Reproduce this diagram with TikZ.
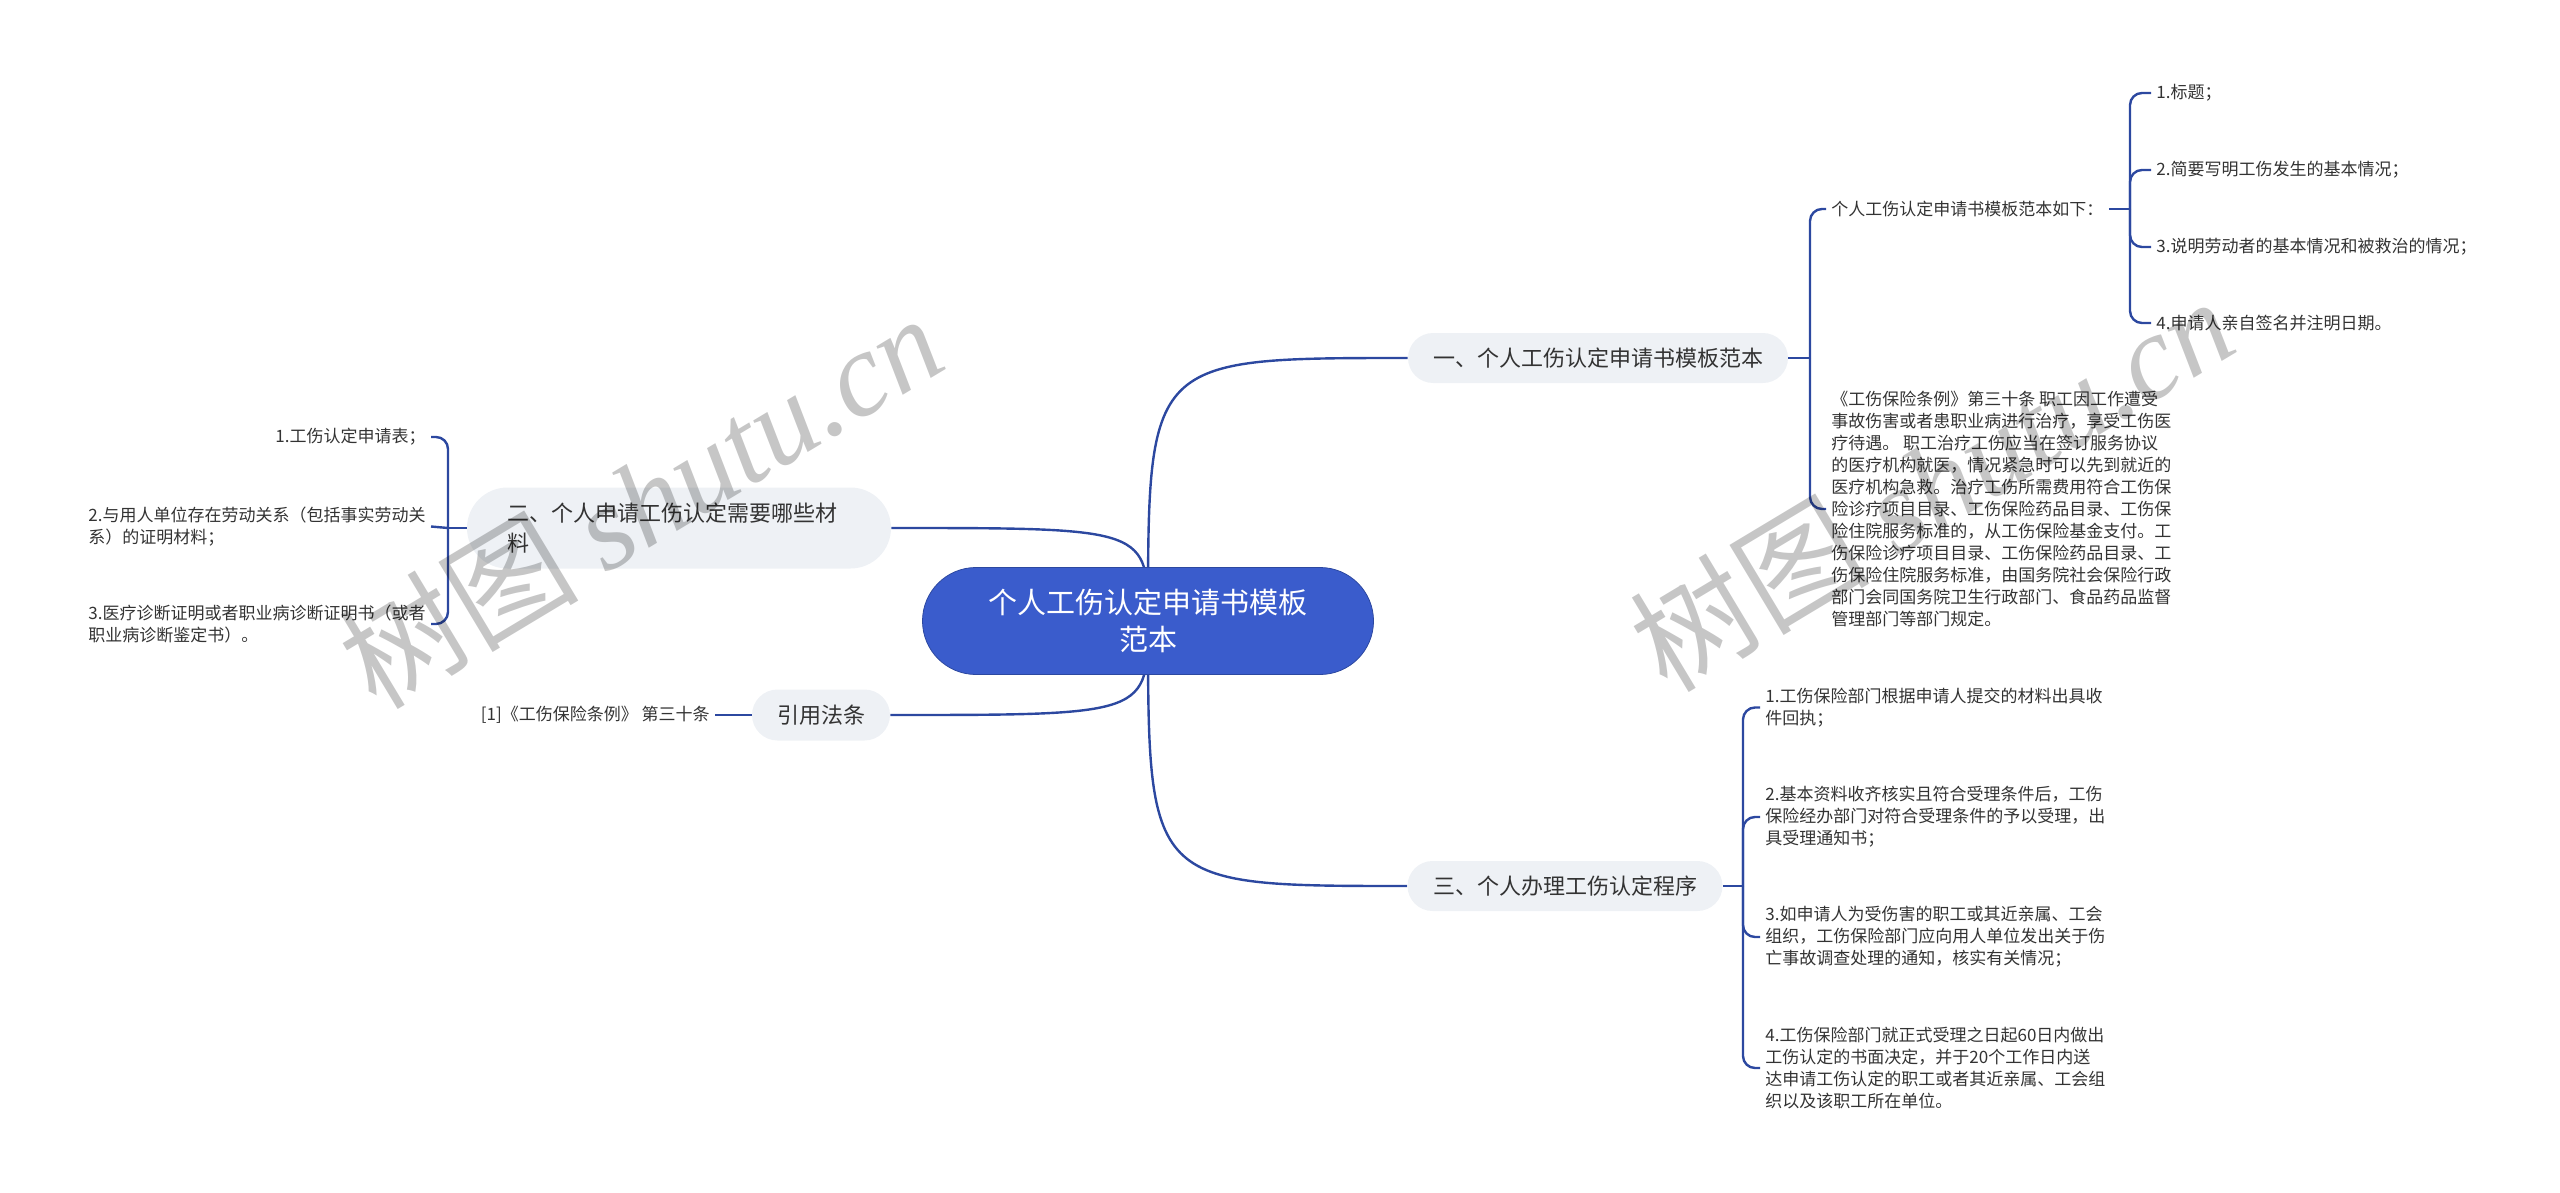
\documentclass[tikz,border=0pt]{standalone}
\usepackage{fontspec}
\setmainfont{Noto Sans CJK SC}
\newfontfamily\wmlatin{Liberation Serif}
\usetikzlibrary{backgrounds,shapes.misc}
\definecolor{lc}{HTML}{2C48A0}
\definecolor{rootfill}{HTML}{3A5CCC}
\definecolor{bfill}{HTML}{EEF1F5}
\definecolor{tc}{HTML}{333333}
\definecolor{wmc}{HTML}{C6C6C6}
\begin{document}
\begin{tikzpicture}[x=0.5pt,y=-0.5pt,
 edge/.style={draw=lc,line width=1.2pt},
 bracket/.style={edge,rounded corners=6pt},
 rootnode/.style={rounded rectangle,fill=rootfill,draw=lc,line width=0.4pt,text=white,minimum width=225.5pt,minimum height=53.5pt,inner sep=0pt,align=center,font=\fontsize{14.5pt}{18.5pt}\selectfont},
 branch/.style={rounded rectangle,fill=bfill,text=tc,minimum height=25pt,inner sep=0pt,font=\fontsize{11pt}{15pt}\selectfont},
 leaf/.style={text=tc,inner xsep=2.5pt,inner ysep=1pt,align=left,font=\fontsize{8.5pt}{11pt}\selectfont},
 wm/.style={text=wmc,rotate=31,inner sep=0pt,font=\fontsize{60pt}{60pt}\selectfont}]
\useasboundingbox (0,0) rectangle (2560,1193);
% root and branches
\node[rootnode] (root) at (1148,621) {个人工伤认定申请书模板\\范本};
\node[branch,minimum width=190pt] (b1) at (1598,358) {一、个人工伤认定申请书模板范本};
\node[branch,minimum width=212pt,minimum height=40.5pt,text width=172pt,align=left] (b2) at (679,528) {二、个人申请工伤认定需要哪些材\\料};
\node[branch,minimum width=157.5pt] (b3) at (1565,886) {三、个人办理工伤认定程序};
\node[branch,minimum width=69pt,minimum height=25.5pt] (b4) at (821,715) {引用法条};
% branch 1 leaves
\node[leaf,anchor=west] (s1) at (1826,209) {个人工伤认定申请书模板范本如下：};
\node[leaf,anchor=west] (t1) at (2151,93) {1.标题；};
\node[leaf,anchor=west] (t2) at (2151,170) {2.简要写明工伤发生的基本情况；};
\node[leaf,anchor=west] (t3) at (2151,247) {3.说明劳动者的基本情况和被救治的情况；};
\node[leaf,anchor=west] (t4) at (2151,323) {4.申请人亲自签名并注明日期。};
\node[leaf,anchor=west] (p1) at (1826,509) {《工伤保险条例》第三十条 职工因工作遭受\\事故伤害或者患职业病进行治疗，享受工伤医\\疗待遇。 职工治疗工伤应当在签订服务协议\\的医疗机构就医，情况紧急时可以先到就近的\\医疗机构急救。治疗工伤所需费用符合工伤保\\险诊疗项目目录、工伤保险药品目录、工伤保\\险住院服务标准的，从工伤保险基金支付。工\\伤保险诊疗项目目录、工伤保险药品目录、工\\伤保险住院服务标准，由国务院社会保险行政\\部门会同国务院卫生行政部门、食品药品监督\\管理部门等部门规定。};
% branch 3 leaves
\node[leaf,anchor=west] (c1) at (1760,707.5) {1.工伤保险部门根据申请人提交的材料出具收\\件回执；};
\node[leaf,anchor=west] (c2) at (1760,817) {2.基本资料收齐核实且符合受理条件后，工伤\\保险经办部门对符合受理条件的予以受理，出\\具受理通知书；};
\node[leaf,anchor=west] (c3) at (1760,937) {3.如申请人为受伤害的职工或其近亲属、工会\\组织，工伤保险部门应向用人单位发出关于伤\\亡事故调查处理的通知，核实有关情况；};
\node[leaf,anchor=west] (c4) at (1760,1068) {4.工伤保险部门就正式受理之日起60日内做出\\工伤认定的书面决定，并于20个工作日内送\\达申请工伤认定的职工或者其近亲属、工会组\\织以及该职工所在单位。};
% branch 2 leaves
\node[leaf,anchor=east] (l1) at (431,437) {1.工伤认定申请表；};
\node[leaf,anchor=east] (l2) at (431,526.5) {2.与用人单位存在劳动关系（包括事实劳动关\\系）的证明材料；};
\node[leaf,anchor=east] (l3) at (431,624) {3.医疗诊断证明或者职业病诊断证明书（或者\\职业病诊断鉴定书）。};
% citation
\node[leaf,anchor=east] (cite) at (715,715) {[1]《工伤保险条例》 第三十条};
% junctions
\coordinate (j1) at (1810,358);
\coordinate (j2) at (2130,209);
\coordinate (j3) at (1743,886);
\coordinate (j4) at (448,528);
\begin{pgfonlayer}{background}
\draw[edge] (root.center) .. controls (root.center |- b1.west) .. (b1.west);
\draw[edge] (root.center) .. controls (root.center |- b2.east) .. (b2.east);
\draw[edge] (root.center) .. controls (root.center |- b4.east) .. (b4.east);
\draw[edge] (root.center) .. controls (root.center |- b3.west) .. (b3.west);
\end{pgfonlayer}
\draw[edge] (b1.east) -- (j1);
\draw[bracket] (j1) |- (s1.west);
\draw[bracket] (j1) |- (p1.west);
\draw[edge] (s1.east) -- (j2);
\draw[bracket] (j2) |- (t1.west);
\draw[bracket] (j2) |- (t2.west);
\draw[bracket] (j2) |- (t3.west);
\draw[bracket] (j2) |- (t4.west);
\draw[edge] (b3.east) -- (j3);
\draw[bracket] (j3) |- (c1.west);
\draw[bracket] (j3) |- (c2.west);
\draw[bracket] (j3) |- (c3.west);
\draw[bracket] (j3) |- (c4.west);
\draw[edge] (b2.west) -- (j4);
\draw[bracket] (j4) |- (l1.east);
\draw[edge] (j4) -- (l2.east);
\draw[bracket] (j4) |- (l3.east);
\draw[edge] (b4.west) -- (cite.east);
% watermarks
\begin{scope}[blend mode=multiply]
\node[wm] (wm1) at (640,500) {树图 {\wmlatin\itshape shutu.cn}};
\node[wm] (wm2) at (1931,483) {树图 {\wmlatin\itshape shutu.cn}};
\end{scope}
\end{tikzpicture}
\end{document}
